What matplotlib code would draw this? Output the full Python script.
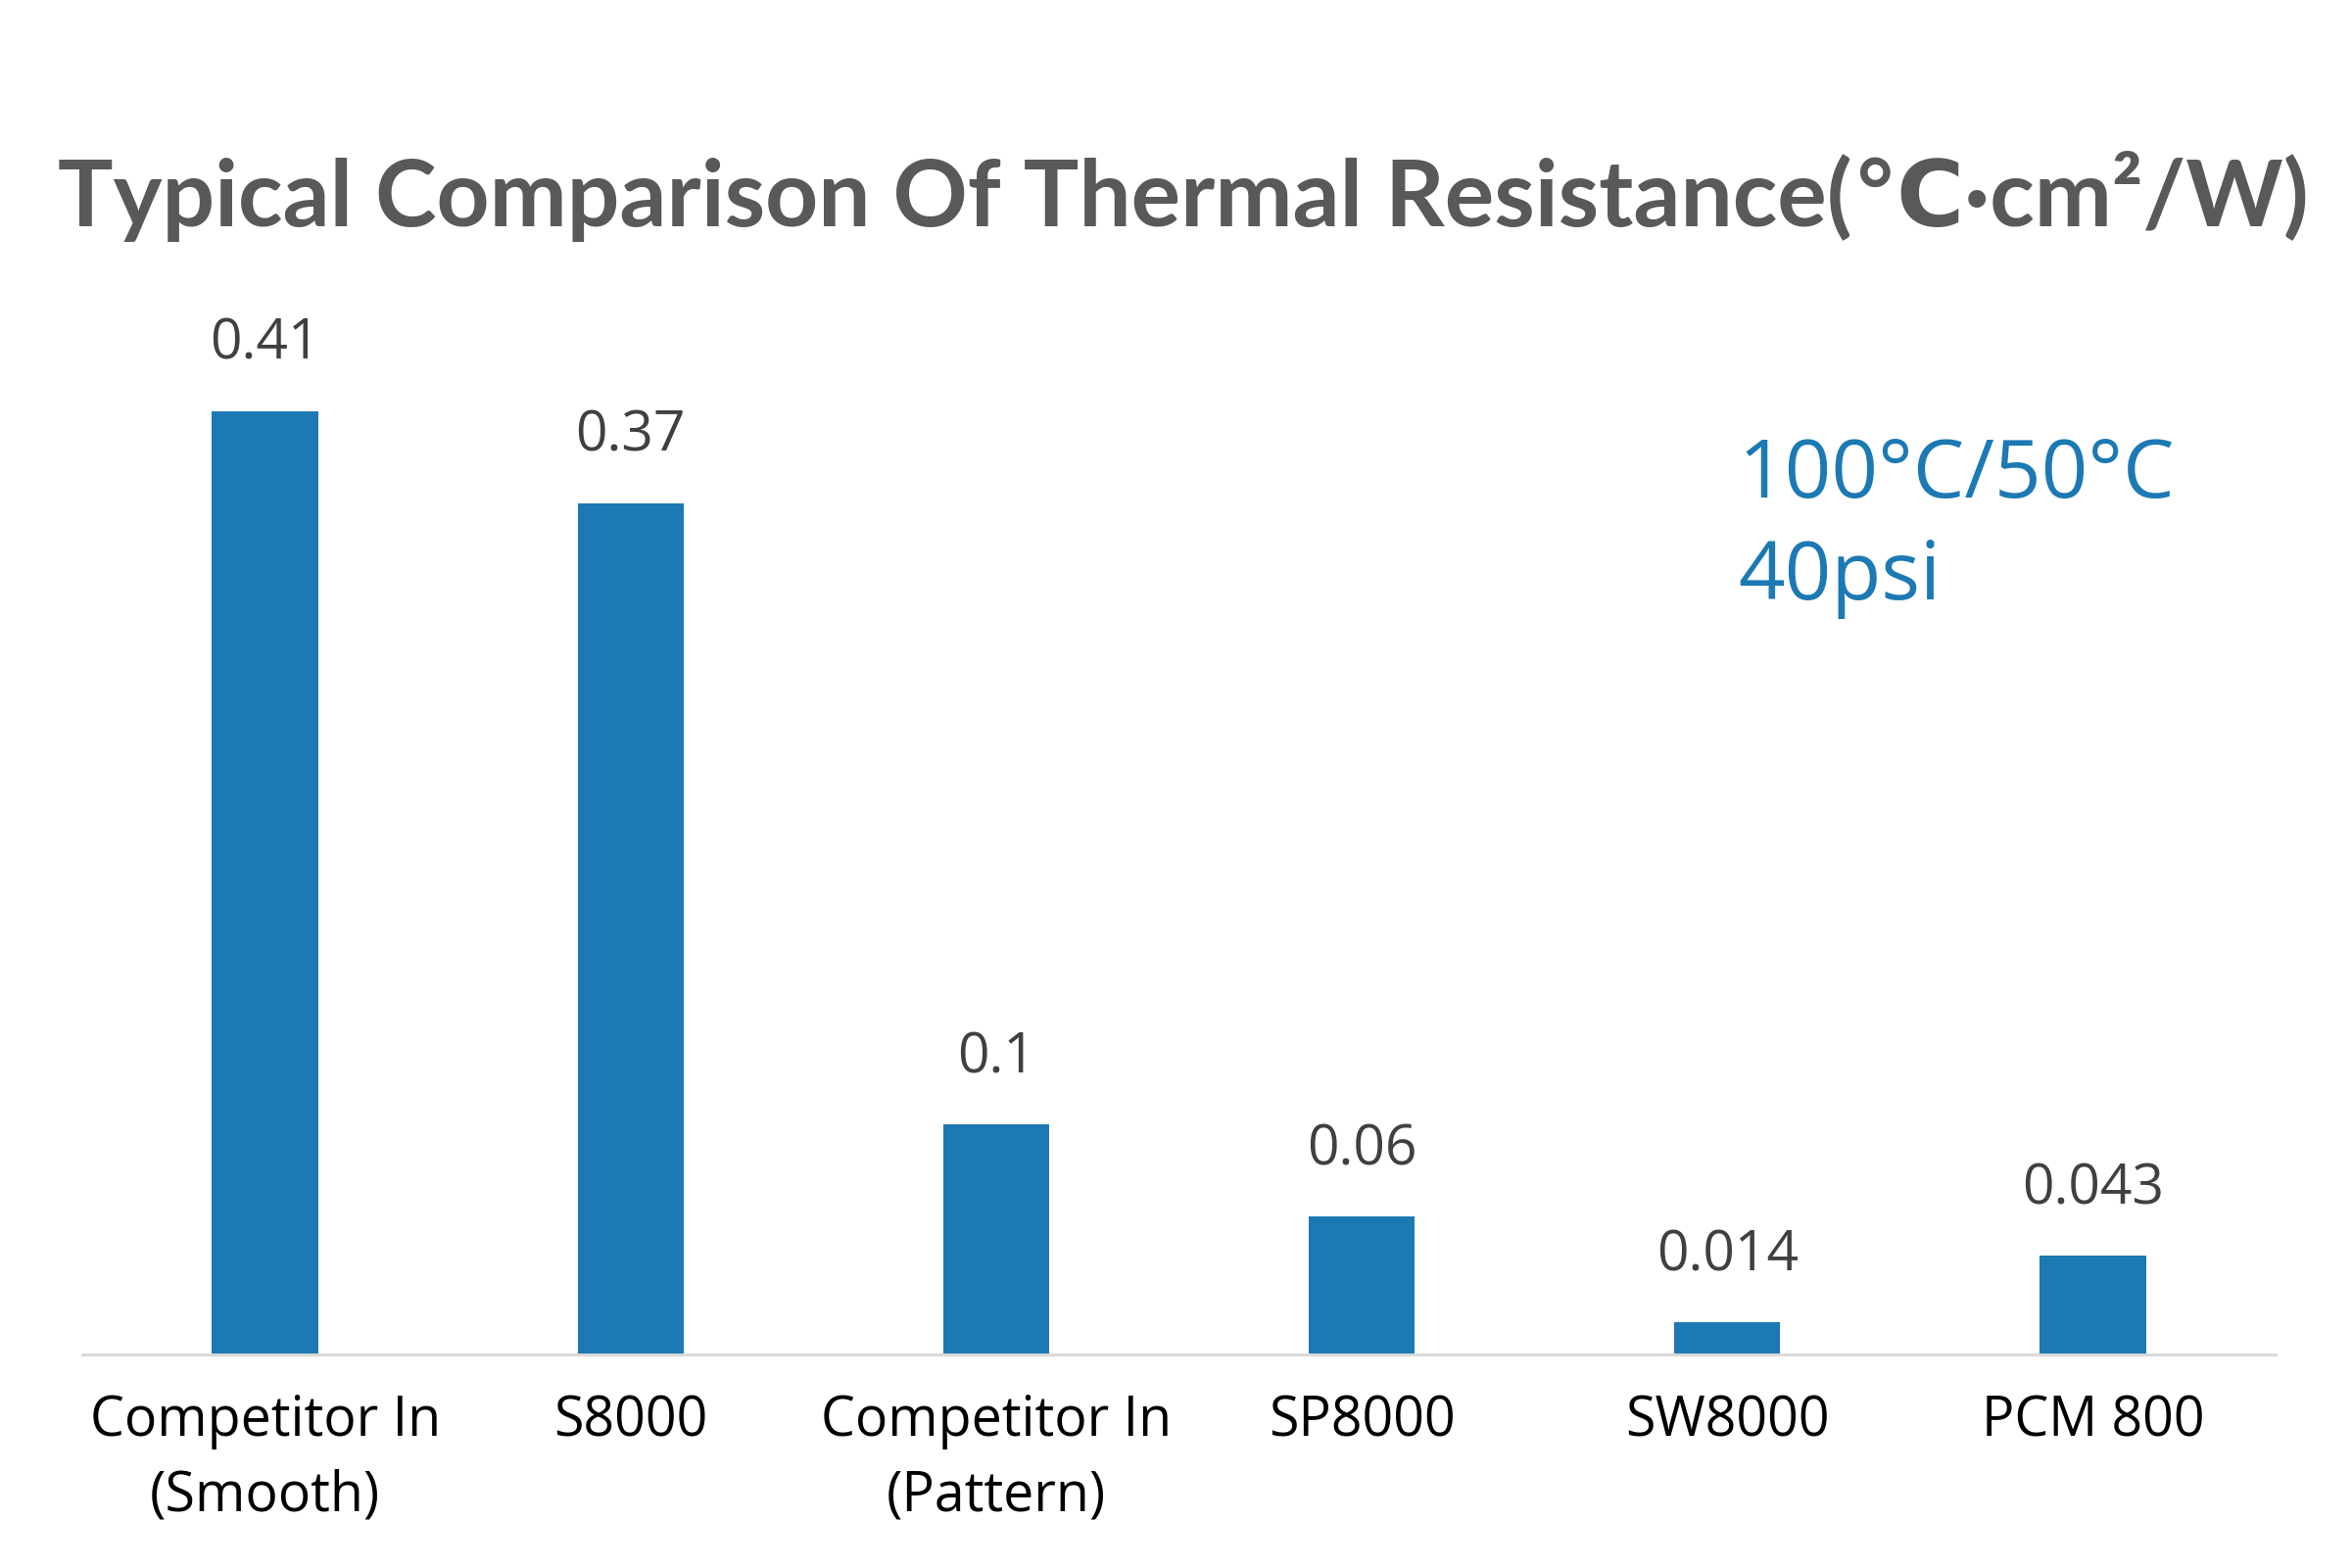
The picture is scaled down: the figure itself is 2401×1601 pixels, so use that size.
import matplotlib
matplotlib.use("Agg")
import matplotlib.pyplot as plt

categories = ["Competitor In\n(Smooth)", "S8000", "Competitor In\n(Pattern)", "SP8000", "SW8000", "PCM 800"]
values = [0.41, 0.37, 0.1, 0.06, 0.014, 0.043]
value_labels = ["0.41", "0.37", "0.1", "0.06", "0.014", "0.043"]
title = "Typical Comparison Of Thermal Resistance(\u2103\u00b7cm\u00b2/W)"
note_lines = ["100\u00b0C/50\u00b0C", "40psi"]

BAR = "#1c79b3"
W, H = 2401, 1601
fig = plt.figure(figsize=(W / 100, H / 100), dpi=100)
fig.patch.set_facecolor("white")

left, right = 84 / W, 2323 / W
base = 1 - 1383 / H
ymax = 0.45
top_px = 1383 - ymax * 2350
ax = fig.add_axes([left, base, right - left, (1383 - top_px) / H])

x = list(range(len(categories)))
bars = ax.bar(x, values, width=0.29, color=BAR, zorder=2)
ax.set_xlim(-0.5, len(categories) - 0.5)
ax.set_ylim(0, ymax)

for s in ["top", "right", "left"]:
    ax.spines[s].set_visible(False)
ax.spines["bottom"].set_color("#d9d9d9")
ax.spines["bottom"].set_linewidth(2.2)
ax.set_yticks([])
ax.set_xticks(x)
ax.set_xticklabels(categories, fontsize=40, family=["Open Sans", "DejaVu Sans"],
                   color="black", linespacing=1.45)
ax.tick_params(axis="x", length=0, pad=29)

for xi, v, lab in zip(x, values, value_labels):
    ax.annotate(lab, (xi, v), xytext=(0, 38), textcoords="offset points",
                ha="center", va="baseline", fontsize=41, color="#404040",
                family=["Open Sans", "DejaVu Sans"])

fig.text(0.503, 1 - 231 / H, title, ha="center", va="baseline", fontsize=68,
         fontweight="bold", color="#595959", family=["Lato", "DejaVu Sans"])

fig.text(1774 / W, 1 - 508 / H, note_lines[0], ha="left", va="baseline", fontsize=60,
         color=BAR, family=["Open Sans", "DejaVu Sans"])
fig.text(1774 / W, 1 - 612 / H, note_lines[1], ha="left", va="baseline", fontsize=60,
         color=BAR, family=["Open Sans", "DejaVu Sans"])

fig.savefig("out.png", dpi=100, facecolor="white")
